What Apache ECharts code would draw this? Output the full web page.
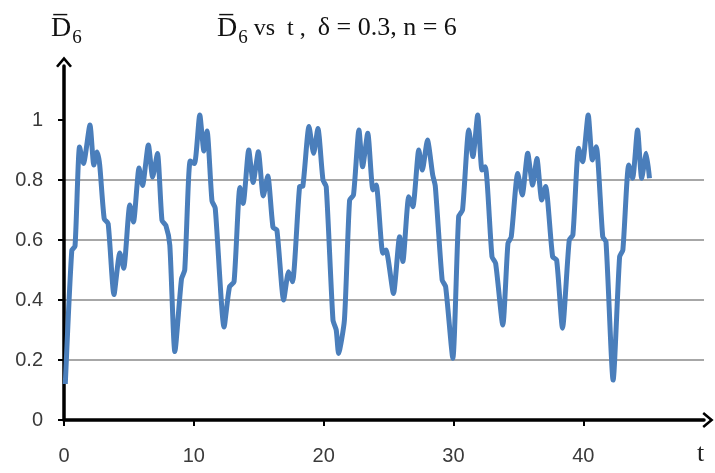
<!DOCTYPE html>
<html>
<head>
<meta charset="utf-8">
<script src="https://cdn.jsdelivr.net/npm/echarts@6/dist/echarts.min.js"></script>
<style>html,body{margin:0;padding:0;background:#fff}#c{width:715px;height:473px}</style>
</head>
<body>
<div id="c"></div>
<script>
// Time values (t) and mean D6 values
var tValues = [0.1,0.6,0.85,1.2,1.5,2.0,2.3,2.55,2.75,3.1,3.4,3.85,4.3,4.6,5.07,5.35,5.78,6.05,6.5,6.83,7.2,7.55,7.85,8.15,8.54,9.05,9.3,9.72,10.05,10.46,10.78,11.02,11.4,11.65,12.33,12.75,13.1,13.55,13.8,14.23,14.57,14.97,15.35,15.7,16.1,16.4,16.92,17.3,17.6,18.15,18.4,18.87,19.23,19.56,19.95,20.2,20.72,20.97,21.15,21.6,22.0,22.3,22.72,23.0,23.4,23.8,24.05,24.56,24.8,25.38,25.85,26.1,26.56,26.87,27.33,27.6,28.0,28.4,28.6,29.13,29.4,29.95,30.4,30.7,31.18,31.5,31.87,32.2,32.45,32.97,33.25,33.8,34.2,34.45,34.95,35.3,35.72,36.1,36.43,36.8,37.1,37.64,37.95,38.4,38.92,39.2,39.64,39.95,40.38,40.7,41.0,41.5,41.75,42.3,42.8,43.05,43.5,43.8,44.18,44.5,44.85,45.1];
var dValues = [0.12,0.565,0.58,0.91,0.855,0.983,0.85,0.893,0.85,0.67,0.655,0.418,0.557,0.506,0.717,0.66,0.84,0.782,0.917,0.81,0.888,0.665,0.648,0.583,0.228,0.47,0.5,0.863,0.855,1.017,0.897,0.963,0.73,0.706,0.31,0.444,0.461,0.775,0.722,0.9,0.792,0.894,0.747,0.813,0.642,0.633,0.4,0.494,0.461,0.778,0.78,0.978,0.889,0.972,0.8,0.778,0.333,0.3,0.222,0.333,0.733,0.75,0.967,0.844,0.956,0.767,0.783,0.556,0.567,0.422,0.611,0.528,0.744,0.711,0.9,0.833,0.933,0.817,0.78,0.467,0.444,0.206,0.678,0.7,0.967,0.878,1.017,0.833,0.844,0.544,0.522,0.317,0.589,0.61,0.822,0.75,0.889,0.783,0.872,0.733,0.778,0.544,0.533,0.306,0.6,0.617,0.906,0.861,1.017,0.867,0.911,0.611,0.594,0.133,0.544,0.567,0.85,0.806,0.967,0.806,0.889,0.806];
var xTickValues = [0,10,20,30,40];
var yTickValues = [0,0.2,0.4,0.6,0.8,1];

var seriesData = tValues.map(function(t,i){ return [t, dValues[i]]; });
var chev = 'path://M0,12 L10,0 L20,12 L17.5,14 L10,5 L2.5,14 Z';
var serif = '"Liberation Serif","DejaVu Serif",serif';
var chart = echarts.init(document.getElementById('c'));
chart.setOption({
  animation: false,
  backgroundColor: '#ffffff',
  title: [
    {
      left: 212, top: 4,
      text: '{d|D\u0305}{s|6}{n| vs  t ,  }{m|\u03b4 = 0.3, n = 6}',
      textStyle: {
        fontWeight: 'normal',
        rich: {
          d: {fontFamily: serif, fontSize: 28, fontWeight: 'normal', color: '#111'},
          s: {fontFamily: serif, fontSize: 19, fontWeight: 'normal', color: '#111', padding: [20,0,0,1]},
          n: {fontFamily: serif, fontSize: 24, fontWeight: 'normal', color: '#111'},
          m: {fontFamily: serif, fontSize: 26, fontWeight: 'normal', color: '#111'}
        }
      }
    },
    {
      left: 46, top: 4,
      text: '{d|D\u0305}{s|6}',
      textStyle: {
        fontWeight: 'normal',
        rich: {
          d: {fontFamily: serif, fontSize: 28, fontWeight: 'normal', color: '#111'},
          s: {fontFamily: serif, fontSize: 19, fontWeight: 'normal', color: '#111', padding: [20,0,0,1]}
        }
      }
    },
    {
      left: 692, top: 436,
      text: 't',
      textStyle: {fontFamily: serif, fontSize: 26, fontWeight: 'normal', color: '#222'}
    }
  ],
  grid: {left: 64, right: 11, top: 66, bottom: 53, containLabel: false},
  xAxis: {
    type: 'value', min: 0, max: 49.3,
    axisLine: {show: true, onZero: false, lineStyle: {color: '#000', width: 3.5}, symbol: ['none', chev], symbolSize: [16, 12], symbolOffset: [0, 4]},
    axisTick: {show: true, length: 6, lineStyle: {color: '#000', width: 2}, customValues: xTickValues},
    axisLabel: {customValues: xTickValues, margin: 26, fontFamily: '"Liberation Sans",Arial,sans-serif', fontSize: 20, color: '#3a3a3a'},
    splitLine: {show: false}
  },
  yAxis: {
    type: 'value', min: 0, max: 1.18,
    axisLine: {show: true, lineStyle: {color: '#000', width: 3.5}, symbol: ['none', chev], symbolSize: [16, 12], symbolOffset: [0, 4]},
    axisTick: {show: true, length: 6, lineStyle: {color: '#000', width: 2}, customValues: yTickValues},
    axisLabel: {customValues: yTickValues, margin: 21, fontFamily: '"Liberation Sans",Arial,sans-serif', fontSize: 20, color: '#3a3a3a'},
    splitLine: {show: true, showMaxLine: false, lineStyle: {color: '#8a8a8a', width: 1.5}}
  },
  series: [{
    type: 'line',
    data: seriesData,
    showSymbol: false,
    smooth: 0.2,
    clip: false,
    lineStyle: {color: '#4a7ebb', width: 5},
    itemStyle: {color: '#4a7ebb'}
  }]
});
</script>
</body>
</html>
